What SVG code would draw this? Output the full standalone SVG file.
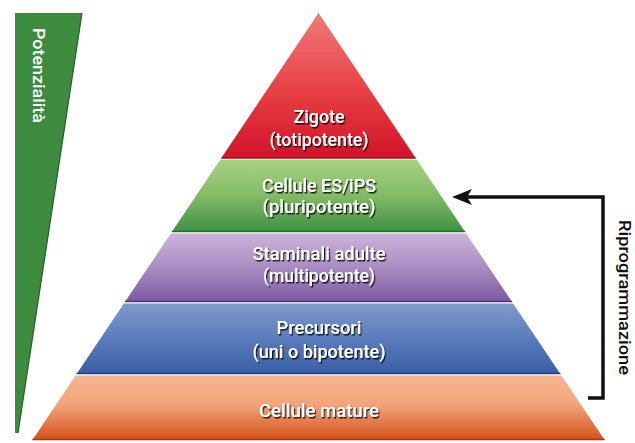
<svg xmlns="http://www.w3.org/2000/svg" width="635" height="443" viewBox="0 0 635 443">
<defs>
<linearGradient id="gRed" x1="0" y1="0" x2="0" y2="1"><stop offset="0" stop-color="#f37a7a"/><stop offset="0.6" stop-color="#e43a3f"/><stop offset="1" stop-color="#d1142a"/></linearGradient>
<linearGradient id="gGreen" x1="0" y1="0" x2="0" y2="1"><stop offset="0" stop-color="#a9d283"/><stop offset="0.5" stop-color="#82bb65"/><stop offset="1" stop-color="#3f8f44"/></linearGradient>
<linearGradient id="gPurple" x1="0" y1="0" x2="0" y2="1"><stop offset="0" stop-color="#cbb5da"/><stop offset="0.5" stop-color="#a98cc2"/><stop offset="1" stop-color="#7c59a0"/></linearGradient>
<linearGradient id="gBlue" x1="0" y1="0" x2="0" y2="1"><stop offset="0" stop-color="#7f9bcc"/><stop offset="0.5" stop-color="#5a7cbc"/><stop offset="1" stop-color="#3a5da6"/></linearGradient>
<linearGradient id="gOrange" x1="0" y1="0" x2="0" y2="1"><stop offset="0" stop-color="#f5b593"/><stop offset="0.45" stop-color="#f2a47a"/><stop offset="1" stop-color="#d4501c"/></linearGradient>
<filter id="sh" x="-10%" y="-30%" width="120%" height="160%"><feDropShadow dx="1.2" dy="1.5" stdDeviation="0.7" flood-color="#000" flood-opacity="0.85"/></filter>
<marker id="ah" markerWidth="20" markerHeight="16" refX="5" refY="8" orient="auto" markerUnits="userSpaceOnUse" viewBox="0 0 20 16"><path d="M20,8 L0,0 L5,8 L0,16 Z" fill="#111"/></marker>
</defs>
<style>
.lbl{font-family:Roboto,"Liberation Sans",sans-serif;font-weight:500;font-size:19px;fill:#fff;text-anchor:middle;filter:url(#sh)}
.sep{stroke-width:1.6;fill:none}
</style>
<rect width="635" height="443" fill="#fff"/>
<g id="potenzialita">
<polygon points="15,13 82,13 18,433 15,433" fill="#3d8b3e"/>
<line x1="82" y1="13" x2="18" y2="433" stroke="#245c27" stroke-width="1.2"/>
<text transform="translate(33,28) rotate(90)" style="font-family:Roboto,'Liberation Sans',sans-serif;font-weight:500;font-size:16px;fill:#fff" textLength="95" lengthAdjust="spacingAndGlyphs">Potenzialità</text>
</g>
<g id="zigote">
<polygon points="318.5,13 415.7,158 221.3,158" fill="url(#gRed)"/>
<line class="sep" x1="221.3" y1="158" x2="415.7" y2="158" stroke="#9c1020"/>
<text class="lbl" x="319" y="123" textLength="51" lengthAdjust="spacingAndGlyphs">Zigote</text>
<text class="lbl" x="319" y="146" textLength="99" lengthAdjust="spacingAndGlyphs">(totipotente)</text>
</g>
<g id="es-ips">
<polygon points="220.3,159.5 416.7,159.5 465.2,232 171.8,232" fill="url(#gGreen)"/>
<line class="sep" x1="171.8" y1="231.5" x2="465.2" y2="231.5" stroke="#2a6a2e"/>
<text class="lbl" x="319" y="192" textLength="114" lengthAdjust="spacingAndGlyphs">Cellule ES/iPS</text>
<text class="lbl" x="319" y="213" textLength="113" lengthAdjust="spacingAndGlyphs">(pluripotente)</text>
</g>
<g id="staminali">
<polygon points="170.8,233.5 466.2,233.5 512.1,302 124.9,302" fill="url(#gPurple)"/>
<line class="sep" x1="124.9" y1="301.5" x2="512.1" y2="301.5" stroke="#4e3778"/>
<text class="lbl" x="319" y="260" textLength="133" lengthAdjust="spacingAndGlyphs">Staminali adulte</text>
<text class="lbl" x="319" y="282" textLength="112" lengthAdjust="spacingAndGlyphs">(multipotente)</text>
</g>
<g id="precursori">
<polygon points="123.9,303.5 513.1,303.5 560.4,374 76.6,374" fill="url(#gBlue)"/>
<line class="sep" x1="76.6" y1="373.5" x2="560.4" y2="373.5" stroke="#263f7a"/>
<text class="lbl" x="319" y="334" textLength="85" lengthAdjust="spacingAndGlyphs">Precursori</text>
<text class="lbl" x="319" y="358" textLength="133" lengthAdjust="spacingAndGlyphs">(uni o bipotente)</text>
</g>
<g id="mature">
<polygon points="75.6,375.5 561.4,375.5 604.6,440 32.4,440" fill="url(#gOrange)"/>
<line class="sep" x1="32.4" y1="439.5" x2="604.6" y2="439.5" stroke="#a03a14"/>
<text class="lbl" x="319" y="417" textLength="120" lengthAdjust="spacingAndGlyphs">Cellule mature</text>
</g>
<g id="connectors">
<polyline points="588,398 603,398 603,197 467,197" fill="none" stroke="#111" stroke-width="3.5" stroke-linejoin="miter" marker-end="url(#ah)"/>
</g>
<g id="riprogrammazione">
<text transform="translate(619,220) rotate(90)" style="font-family:Roboto,'Liberation Sans',sans-serif;font-weight:500;font-size:17px;fill:#111" textLength="155" lengthAdjust="spacingAndGlyphs">Riprogrammazione</text>
</g>
</svg>
